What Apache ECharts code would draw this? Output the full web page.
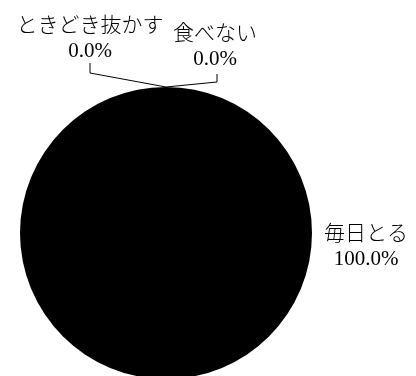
<!DOCTYPE html>
<html>
<head>
<meta charset="utf-8">
<script src="https://cdn.jsdelivr.net/npm/echarts@6/dist/echarts.min.js"></script>
<style>
  html, body { margin: 0; padding: 0; background: #fff; }
  #chart { width: 416px; height: 376px; }
</style>
</head>
<body>
<div id="chart"></div>
<script>
// 朝食の摂取状況
const categories = ['毎日とる', 'ときどき抜かす', '食べない'];
const values = [100, 0, 0];

const cx = 166, cy = 233, r = 146;
const font = "'Liberation Serif', 'Noto Sans CJK JP', serif";

const chart = echarts.init(document.getElementById('chart'));

// ラベルの位置（円の中心・半径からの相対）
function placeLabel(params) {
  const top = [cx, cy - r];
  if (params.dataIndex === 0) {
    return { x: cx + r + 54, y: cy + 14, align: 'center', verticalAlign: 'middle' };
  }
  if (params.dataIndex === 1) {
    return {
      x: cx - 76, y: top[1] - 23, align: 'center', verticalAlign: 'bottom',
      labelLinePoints: [top, [cx - 76, top[1] - 14], [cx - 76, top[1] - 24]]
    };
  }
  return {
    x: cx + 49, y: top[1] - 15, align: 'center', verticalAlign: 'bottom',
    labelLinePoints: [top, [cx + 51, top[1] - 5], [cx + 51, top[1] - 13]]
  };
}

const option = {
  animation: false,
  series: [
    {
      type: 'pie',
      center: [cx, cy],
      radius: r,
      startAngle: 90,
      clockwise: true,
      avoidLabelOverlap: false,
      itemStyle: { color: '#000' },
      label: {
        show: true,
        color: '#000',
        fontFamily: font,
        fontSize: 21,
        fontWeight: 300,
        lineHeight: 25,
        formatter: (p) => p.name + '\n' + p.percent.toFixed(1) + '%'
      },
      labelLine: {
        show: true,
        lineStyle: { color: '#000', width: 1 }
      },
      labelLayout: placeLabel,
      emphasis: { disabled: true },
      data: categories.map((name, i) => ({
        name: name,
        value: values[i],
        labelLine: { show: i !== 0 }
      }))
    }
  ]
};

chart.setOption(option);
</script>
</body>
</html>
